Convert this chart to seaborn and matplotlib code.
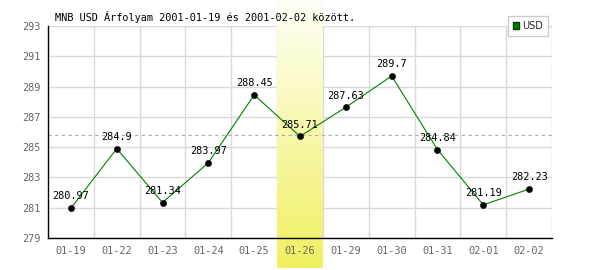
import numpy as np
import pandas as pd
import matplotlib
matplotlib.use("Agg")
import matplotlib.pyplot as plt
from matplotlib.patches import Patch
import seaborn as sns

dates = ["01-19", "01-22", "01-23", "01-24", "01-25", "01-26",
         "01-29", "01-30", "01-31", "02-01", "02-02"]
usd = [280.97, 284.9, 281.34, 283.97, 288.45, 285.71,
       287.63, 289.7, 284.84, 281.19, 282.23]
ref_level = 285.8
highlight = "01-26"
title = "MNB USD Árfolyam 2001-01-19 és 2001-02-02 között."
yticks = [279, 281, 283, 285, 287, 289, 291, 293]

df = pd.DataFrame({"pos": np.arange(len(dates)), "date": dates, "usd": usd})

sns.set_style("white")
plt.rcParams["font.family"] = ["DejaVu Sans Mono", "DejaVu Sans"]

fig = plt.figure(figsize=(6, 2.7), dpi=100)
ax = fig.add_axes([48/600, 1-238/270, 504/600, 212/270])
ax.set_axisbelow(False)

# grid
for yv in yticks:
    ax.axhline(yv, color="#d9d9d9", lw=1, zorder=0.8)
for xv in np.arange(0.5, len(dates), 1.0):
    ax.axvline(xv, color="#d9d9d9", lw=1, zorder=0.8)

# highlight band (gradient), extending beyond the axes
hi = dates.index(highlight)
grad = np.linspace(0, 1, 256).reshape(-1, 1)
top = np.array([1.0, 1.0, 0.97])
bot = np.array([240, 240, 96]) / 255
img = top[None, None, :] * (1 - grad[..., None]) + bot[None, None, :] * grad[..., None]
y_top = 293 + 26 / (212/14)
y_bot = 279 - 30 / (212/14)
ax.imshow(img, extent=(hi - 0.5, hi + 0.5, y_bot, y_top), aspect="auto",
          origin="upper", zorder=1.0, clip_on=False)

ax.axhline(ref_level, color="#aaaaaa", lw=0.8, ls=(0, (3, 3)), zorder=2)

sns.lineplot(data=df, x="pos", y="usd", color="#008000", lw=0.8, ax=ax, zorder=3)
sns.scatterplot(data=df, x="pos", y="usd", color="black", s=20, edgecolor="black",
                ax=ax, zorder=4)

for p, v in zip(df["pos"], df["usd"]):
    ax.annotate(f"{v:g}", (p, v), xytext=(0, 8.5), textcoords="offset points",
                ha="center", va="center", fontsize=7.4, color="black", zorder=5)

ax.set_xlim(-0.5, len(dates) - 0.5)
ax.set_ylim(279, 293)
ax.set_xticks(df["pos"])
ax.set_xticklabels(dates)
ax.set_yticks(yticks)
ax.set_yticklabels([str(t) for t in yticks])
ax.tick_params(axis="both", length=0, labelsize=7.4, labelcolor="#666666")
ax.tick_params(axis="x", pad=6)
ax.tick_params(axis="y", pad=5)
ax.set_xlabel("")
ax.set_ylabel("")
ax.xaxis.set_zorder(6)
ax.yaxis.set_zorder(6)

for s in ["top", "right"]:
    ax.spines[s].set_visible(False)
for s in ["left", "bottom"]:
    ax.spines[s].set_color("black")
    ax.spines[s].set_linewidth(1)
    ax.spines[s].set_zorder(6)

fig.text(55/600, 1-17/270, title, fontsize=7.4, color="black",
         ha="left", va="center")

leg = ax.legend(handles=[Patch(facecolor="#008000", edgecolor="#004000", label="USD")],
                loc="upper right", bbox_to_anchor=(553/600, 1-11/270),
                bbox_transform=fig.transFigure, fancybox=False, framealpha=1,
                edgecolor="#cccccc", handlelength=0.7, handleheight=0.7,
                handletextpad=0.3, borderpad=0.5, prop={"family": "DejaVu Sans", "size": 7})
leg.set_zorder(10)

fig.savefig("out.png", dpi=100)
